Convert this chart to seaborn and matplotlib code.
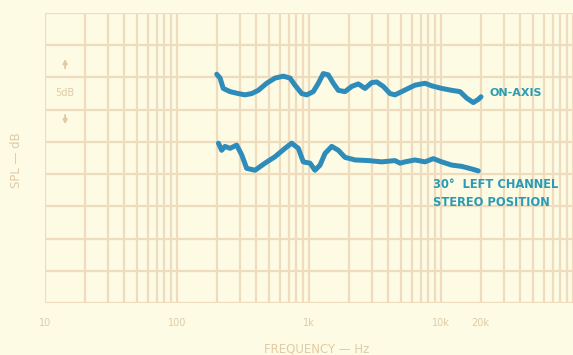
import numpy as np
import pandas as pd
import matplotlib
matplotlib.use("Agg")
import matplotlib.pyplot as plt
import seaborn as sns

# ---- data (frequency in Hz, relative SPL in dB) ----
on_axis_freq = [200, 212, 224, 252, 291, 327, 368, 413, 478, 553, 639, 718, 783, 881,
                961, 1078, 1177, 1283, 1400, 1528, 1667, 1874, 2106, 2363, 2656, 2985,
                3257, 3656, 4109, 4482, 5039, 5653, 6353, 7568, 8503, 10120, 12050,
                13930, 15650, 17570, 19170, 20090]
on_axis_db = [35.5, 34.9, 33.3, 32.8, 32.5, 32.3, 32.5, 33.0, 34.1, 34.9, 35.2, 34.9,
              33.8, 32.5, 32.3, 32.8, 34.1, 35.6, 35.4, 34.1, 33.0, 32.8, 33.6, 34.0,
              33.3, 34.2, 34.3, 33.6, 32.5, 32.3, 32.8, 33.3, 33.8, 34.1, 33.7, 33.3,
              33.0, 32.8, 31.8, 31.1, 31.6, 32.0]

left30_freq = [206, 218, 231, 252, 283, 309, 337, 390, 464, 553, 658, 739, 830, 905,
               1018, 1110, 1212, 1322, 1486, 1667, 1874, 2231, 2813, 3555, 4482, 4892,
               5337, 6353, 7568, 8744, 10120, 12050, 14350, 17090, 19170]
left30_db = [24.8, 23.7, 24.3, 24.0, 24.5, 23.0, 20.9, 20.6, 21.7, 22.7, 24.0, 24.8,
             24.0, 21.9, 21.7, 20.6, 21.4, 23.2, 24.3, 23.7, 22.6, 22.2, 22.1, 21.9,
             22.1, 21.7, 21.9, 22.2, 21.9, 22.4, 21.9, 21.4, 21.2, 20.8, 20.5]

series_names = ["ON-AXIS", "30°  LEFT CHANNEL\nSTEREO POSITION"]
tick_values = [10, 100, 1000, 10000, 20000]
tick_labels = ["10", "100", "1k", "10k", "20k"]

df = pd.concat([
    pd.DataFrame({"freq": on_axis_freq, "spl": on_axis_db, "series": series_names[0]}),
    pd.DataFrame({"freq": left30_freq, "spl": left30_db, "series": series_names[1]}),
])

# ---- style ----
sns.set_theme(style="white")
plt.rcParams["font.family"] = ["DejaVu Sans"]

bg = "#fdfbe4"
grid_c = "#efdcbf"
label_c = "#e0cba6"
line_c = "#2e8cba"
text_c = "#2a9bb5"

fig = plt.figure(figsize=(5.73, 3.55), dpi=100, facecolor=bg)
ax = fig.add_axes([45 / 573, 52 / 355, 528 / 573, 290 / 355])
ax.set_facecolor(bg)

ax.set_xscale("log")
ax.set_xlim(10, 100000)
ax.set_ylim(0, 45)

# chart-paper grid
for dec in [10, 100, 1000, 10000]:
    for m in range(1, 10):
        ax.axvline(dec * m, color=grid_c, lw=1.6, zorder=0)
ax.axvline(100000, color=grid_c, lw=1.6, zorder=0)
for yv in range(0, 50, 5):
    ax.axhline(yv, color=grid_c, lw=1.6, zorder=0)

for s in ax.spines.values():
    s.set_visible(False)

sns.lineplot(data=df, x="freq", y="spl", units="series", estimator=None,
             color=line_c, lw=3.6, ax=ax, sort=False, legend=False,
             solid_joinstyle="round", solid_capstyle="round", zorder=3)

ax.set_xticks(tick_values)
ax.set_xticklabels(tick_labels)
ax.xaxis.set_minor_locator(matplotlib.ticker.NullLocator())
ax.tick_params(axis="x", length=0, pad=11, labelsize=7, labelcolor=label_c)
ax.set_yticks([])
ax.set_xlabel("")
ax.set_ylabel("")

# series labels
ax.text(23500, 32.6, series_names[0], color=text_c, fontsize=8,
        va="center", ha="left", fontweight="bold", zorder=4)
ax.text(8700, 17.0, series_names[1], color=text_c, fontsize=8.3,
        va="center", ha="left", fontweight="bold", linespacing=1.55, zorder=4)

# 5dB scale marker
ax.text(14.2, 32.6, "5dB", color=label_c, fontsize=7, ha="center", va="center")
ax.annotate("", xy=(14.2, 38.3), xytext=(14.2, 36.0),
            arrowprops=dict(arrowstyle="-|>", color=label_c, lw=1.4, mutation_scale=6))
ax.annotate("", xy=(14.2, 27.3), xytext=(14.2, 29.6),
            arrowprops=dict(arrowstyle="-|>", color=label_c, lw=1.4, mutation_scale=6))

# axis titles
fig.text(317 / 573, 1 - 349 / 355, "FREQUENCY — Hz", color=label_c, fontsize=8.5,
         ha="center", va="center")
fig.text(17 / 573, 1 - 160 / 355, "SPL — dB", color=label_c, fontsize=8.5,
         ha="center", va="center", rotation=90)

fig.savefig("out.png", dpi=100, facecolor=bg)
